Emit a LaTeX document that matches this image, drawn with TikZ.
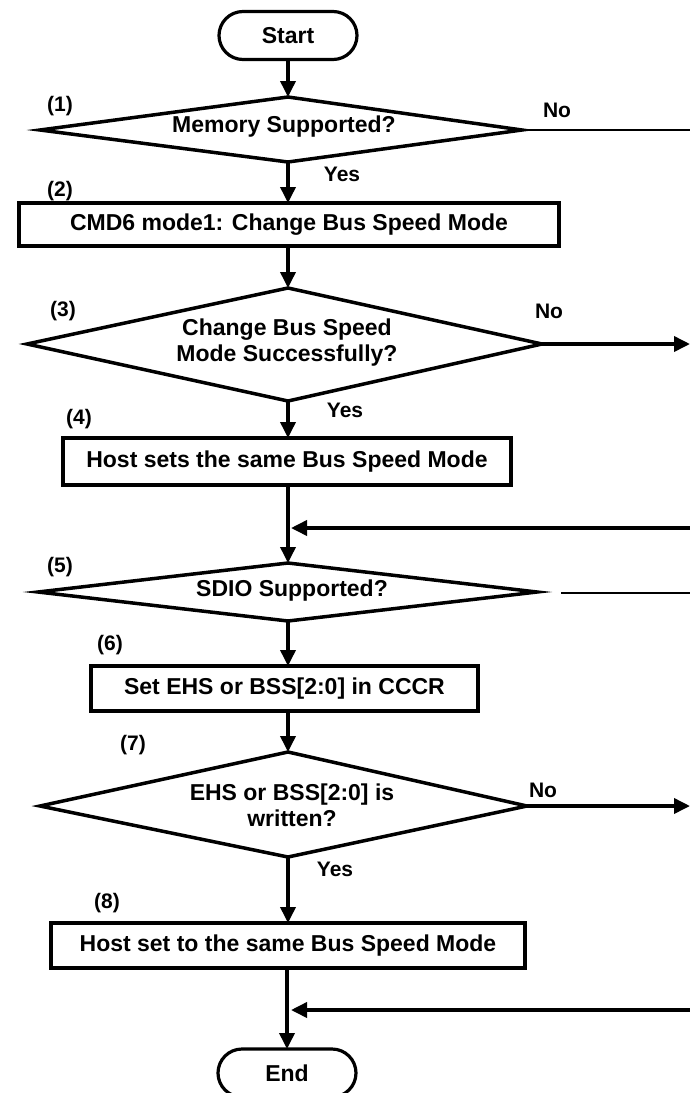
\documentclass[tikz,border=0pt]{standalone}
\usepackage{fontspec}
\setmainfont{Liberation Sans}
\usetikzlibrary{arrows.meta}
\tikzset{
  txt/.style={font=\bfseries\fontsize{23}{26}\selectfont, align=center, inner sep=0pt, outer sep=0pt},
  lbl/.style={font=\bfseries\fontsize{21}{24}\selectfont, inner sep=0pt, outer sep=0pt},
  proc/.style={draw, line width=3.6pt, txt, minimum width=#1},
  term/.style={draw, line width=3.2pt, txt, rounded corners=24pt, minimum width=138pt, minimum height=48pt},
  dia/.style={draw, line width=3.5pt, line join=miter},
  conn/.style={line width=3.6pt},
  thin/.style={line width=2.6pt},
  arr/.style={conn, -{Triangle[length=16pt,width=15pt]}},
}
\begin{document}
\begin{tikzpicture}[x=1pt,y=-1pt]
\useasboundingbox (0,0) rectangle (690,1093);

% Start
\node[term] (start) at (288,35.5) {Start};

% Diamond 1
\coordinate (d1l) at (40,130);
\coordinate (d1t) at (288,97);
\coordinate (d1r) at (522,130);
\coordinate (d1b) at (288,162);
\draw[dia] (d1l) -- (d1t) -- (d1r) -- (d1b) -- cycle;
\node[txt] (d1) at (284,127) {Memory Supported?};

% Box 2
\node[proc=540pt, minimum height=43pt] (b2) at (289,224.5) {CMD6 mode1: Change Bus Speed Mode};

% Diamond 3
\coordinate (d3l) at (27,344);
\coordinate (d3t) at (288,288);
\coordinate (d3r) at (542,344);
\coordinate (d3b) at (288,401);
\draw[dia] (d3l) -- (d3t) -- (d3r) -- (d3b) -- cycle;
\node[txt] (d3) at (287,343) {Change Bus Speed\\Mode Successfully?};

% Box 4
\node[proc=448pt, minimum height=47pt] (b4) at (287,461.5) {Host sets the same Bus Speed Mode};

% Diamond 5
\coordinate (d5l) at (38,592);
\coordinate (d5t) at (288,563);
\coordinate (d5r) at (537,592);
\coordinate (d5b) at (288,621);
\draw[dia] (d5l) -- (d5t) -- (d5r) -- (d5b) -- cycle;
\node[txt] (d5) at (292,591) {SDIO Supported?};

% Box 6
\node[proc=387pt, minimum height=45pt] (b6) at (284.5,688.5) {Set EHS or BSS[2:0] in CCCR};

% Diamond 7
\coordinate (d7l) at (40,806);
\coordinate (d7t) at (288,752);
\coordinate (d7r) at (527,806);
\coordinate (d7b) at (288,857);
\draw[dia] (d7l) -- (d7t) -- (d7r) -- (d7b) -- cycle;
\node[txt] (d7) at (292,805) {EHS or BSS[2:0] is\\written?};

% Box 8
\node[proc=474pt, minimum height=45pt] (b8) at (288,945.5) {Host set to the same Bus Speed Mode};

% End
\node[term] (endn) at (287,1073) {End};

% Labels
\node[lbl] (l1) at (60,106) {(1)};
\node[lbl] (n1) at (557,110) {No};
\node[lbl] (y1) at (342,174) {Yes};
\node[lbl] (l2) at (60,191) {(2)};
\node[lbl] (l3) at (63,311) {(3)};
\node[lbl] (n3) at (549,311) {No};
\node[lbl] (y3) at (345,410) {Yes};
\node[lbl] (l4) at (79,419) {(4)};
\node[lbl] (l5) at (60,567) {(5)};
\node[lbl] (l6) at (110,645) {(6)};
\node[lbl] (l7) at (133,745) {(7)};
\node[lbl] (n7) at (543,790) {No};
\node[lbl] (y7) at (335,869) {Yes};
\node[lbl] (l8) at (107,903) {(8)};

% Free ends and junctions
\coordinate (e1) at (690,130);
\coordinate (e3) at (690,344);
\coordinate (e5in) at (690,528);
\coordinate (j5) at (288,528);
\coordinate (d5o) at (561,593);
\coordinate (e5) at (690,593);
\coordinate (e7) at (690,806);
\coordinate (e8in) at (690,1010);
\coordinate (j8) at (288,1010);

% Main flow
\draw[arr] (start) -- (d1t);
\draw[arr] (d1b) -- (d1b |- b2.north);
\draw[arr] (b2.south -| d3t) -- (d3t);
\draw[arr] (d3b) -- (d3b |- b4.north);
\draw[arr] (b4.south -| d5t) -- (d5t);
\draw[arr] (d5b) -- (d5b |- b6.north);
\draw[arr] (b6.south -| d7t) -- (d7t);
\draw[arr] (d7b) -- (d7b |- b8.north);
\draw[arr] (b8.south -| endn) -- (endn);

% Side branches
\draw[thin] (d1r) -- (e1);
\draw[arr] (d3r) -- (e3);
\draw[arr, shorten >=3pt] (e5in) -- (j5);
\draw[thin] (d5o) -- (e5);
\draw[arr] (d7r) -- (e7);
\draw[arr, shorten >=3pt] (e8in) -- (j8);
\end{tikzpicture}
\end{document}
